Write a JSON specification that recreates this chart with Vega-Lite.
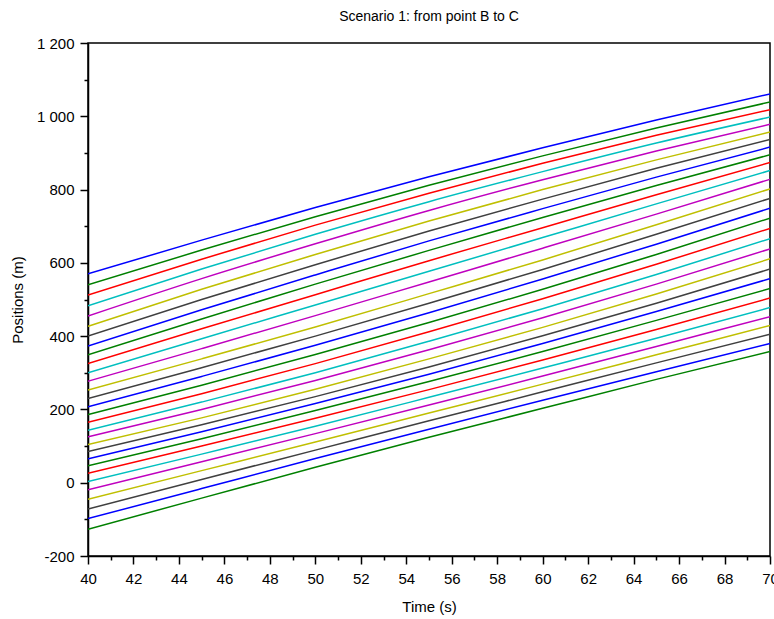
{
"$schema": "https://vega.github.io/schema/vega-lite/v6.json",
"autosize": "none",
"width": 682,
"height": 513,
"padding": {"left": 88, "top": 43, "right": 4, "bottom": 63},
"background": "white",
"config": {"font": "Liberation Sans", "view": {"stroke": "black", "strokeWidth": 1.5}},
"title": {"text": "Scenario 1: from point B to C", "fontSize": 14, "fontWeight": "normal", "font": "Liberation Sans", "color": "black", "offset": 12, "anchor": "middle"},
"data": {"values": [
{"v":1,"t":40,"p":570},{"v":1,"t":45,"p":662},{"v":1,"t":50,"p":751},{"v":1,"t":55,"p":835},{"v":1,"t":60,"p":914},{"v":1,"t":65,"p":990},{"v":1,"t":70,"p":1061},
{"v":2,"t":40,"p":540},{"v":2,"t":45,"p":635},{"v":2,"t":50,"p":726},{"v":2,"t":55,"p":812},{"v":2,"t":60,"p":892},{"v":2,"t":65,"p":968},{"v":2,"t":70,"p":1039},
{"v":3,"t":40,"p":512},{"v":3,"t":45,"p":610},{"v":3,"t":50,"p":703},{"v":3,"t":55,"p":790},{"v":3,"t":60,"p":872},{"v":3,"t":65,"p":948},{"v":3,"t":70,"p":1018},
{"v":4,"t":40,"p":483},{"v":4,"t":45,"p":583},{"v":4,"t":50,"p":678},{"v":4,"t":55,"p":767},{"v":4,"t":60,"p":849},{"v":4,"t":65,"p":927},{"v":4,"t":70,"p":998},
{"v":5,"t":40,"p":455},{"v":5,"t":45,"p":557},{"v":5,"t":50,"p":652},{"v":5,"t":55,"p":743},{"v":5,"t":60,"p":827},{"v":5,"t":65,"p":905},{"v":5,"t":70,"p":978},
{"v":6,"t":40,"p":427},{"v":6,"t":45,"p":528},{"v":6,"t":50,"p":623},{"v":6,"t":55,"p":714},{"v":6,"t":60,"p":800},{"v":6,"t":65,"p":881},{"v":6,"t":70,"p":957},
{"v":7,"t":40,"p":400},{"v":7,"t":45,"p":500},{"v":7,"t":50,"p":595},{"v":7,"t":55,"p":687},{"v":7,"t":60,"p":774},{"v":7,"t":65,"p":858},{"v":7,"t":70,"p":937},
{"v":8,"t":40,"p":373},{"v":8,"t":45,"p":472},{"v":8,"t":50,"p":567},{"v":8,"t":55,"p":660},{"v":8,"t":60,"p":748},{"v":8,"t":65,"p":834},{"v":8,"t":70,"p":916},
{"v":9,"t":40,"p":349},{"v":9,"t":45,"p":447},{"v":9,"t":50,"p":542},{"v":9,"t":55,"p":634},{"v":9,"t":60,"p":724},{"v":9,"t":65,"p":811},{"v":9,"t":70,"p":895},
{"v":10,"t":40,"p":325},{"v":10,"t":45,"p":420},{"v":10,"t":50,"p":513},{"v":10,"t":55,"p":606},{"v":10,"t":60,"p":696},{"v":10,"t":65,"p":786},{"v":10,"t":70,"p":874},
{"v":11,"t":40,"p":300},{"v":11,"t":45,"p":393},{"v":11,"t":50,"p":485},{"v":11,"t":55,"p":577},{"v":11,"t":60,"p":669},{"v":11,"t":65,"p":761},{"v":11,"t":70,"p":852},
{"v":12,"t":40,"p":277},{"v":12,"t":45,"p":366},{"v":12,"t":50,"p":456},{"v":12,"t":55,"p":548},{"v":12,"t":60,"p":640},{"v":12,"t":65,"p":733},{"v":12,"t":70,"p":828},
{"v":13,"t":40,"p":253},{"v":13,"t":45,"p":338},{"v":13,"t":50,"p":425},{"v":13,"t":55,"p":516},{"v":13,"t":60,"p":608},{"v":13,"t":65,"p":704},{"v":13,"t":70,"p":802},
{"v":14,"t":40,"p":230},{"v":14,"t":45,"p":314},{"v":14,"t":50,"p":400},{"v":14,"t":55,"p":490},{"v":14,"t":60,"p":582},{"v":14,"t":65,"p":678},{"v":14,"t":70,"p":776},
{"v":15,"t":40,"p":207},{"v":15,"t":45,"p":290},{"v":15,"t":50,"p":375},{"v":15,"t":55,"p":464},{"v":15,"t":60,"p":556},{"v":15,"t":65,"p":651},{"v":15,"t":70,"p":749},
{"v":16,"t":40,"p":186},{"v":16,"t":45,"p":266},{"v":16,"t":50,"p":350},{"v":16,"t":55,"p":437},{"v":16,"t":60,"p":528},{"v":16,"t":65,"p":623},{"v":16,"t":70,"p":722},
{"v":17,"t":40,"p":165},{"v":17,"t":45,"p":243},{"v":17,"t":50,"p":325},{"v":17,"t":55,"p":412},{"v":17,"t":60,"p":502},{"v":17,"t":65,"p":596},{"v":17,"t":70,"p":694},
{"v":18,"t":40,"p":143},{"v":18,"t":45,"p":220},{"v":18,"t":50,"p":300},{"v":18,"t":55,"p":386},{"v":18,"t":60,"p":475},{"v":18,"t":65,"p":568},{"v":18,"t":70,"p":666},
{"v":19,"t":40,"p":125},{"v":19,"t":45,"p":200},{"v":19,"t":50,"p":279},{"v":19,"t":55,"p":363},{"v":19,"t":60,"p":450},{"v":19,"t":65,"p":542},{"v":19,"t":70,"p":638},
{"v":20,"t":40,"p":104},{"v":20,"t":45,"p":177},{"v":20,"t":50,"p":255},{"v":20,"t":55,"p":338},{"v":20,"t":60,"p":424},{"v":20,"t":65,"p":515},{"v":20,"t":70,"p":611},
{"v":21,"t":40,"p":85},{"v":21,"t":45,"p":158},{"v":21,"t":50,"p":235},{"v":21,"t":55,"p":316},{"v":21,"t":60,"p":401},{"v":21,"t":65,"p":490},{"v":21,"t":70,"p":583},
{"v":22,"t":40,"p":65},{"v":22,"t":45,"p":139},{"v":22,"t":50,"p":216},{"v":22,"t":55,"p":296},{"v":22,"t":60,"p":380},{"v":22,"t":65,"p":467},{"v":22,"t":70,"p":557},
{"v":23,"t":40,"p":46},{"v":23,"t":45,"p":120},{"v":23,"t":50,"p":197},{"v":23,"t":55,"p":276},{"v":23,"t":60,"p":358},{"v":23,"t":65,"p":443},{"v":23,"t":70,"p":530},
{"v":24,"t":40,"p":26},{"v":24,"t":45,"p":100},{"v":24,"t":50,"p":176},{"v":24,"t":55,"p":254},{"v":24,"t":60,"p":335},{"v":24,"t":65,"p":418},{"v":24,"t":70,"p":504},
{"v":25,"t":40,"p":3},{"v":25,"t":45,"p":78},{"v":25,"t":50,"p":154},{"v":25,"t":55,"p":233},{"v":25,"t":60,"p":313},{"v":25,"t":65,"p":394},{"v":25,"t":70,"p":478},
{"v":26,"t":40,"p":-19},{"v":26,"t":45,"p":57},{"v":26,"t":50,"p":134},{"v":26,"t":55,"p":212},{"v":26,"t":60,"p":291},{"v":26,"t":65,"p":372},{"v":26,"t":70,"p":453},
{"v":27,"t":40,"p":-45},{"v":27,"t":45,"p":33},{"v":27,"t":50,"p":111},{"v":27,"t":55,"p":190},{"v":27,"t":60,"p":269},{"v":27,"t":65,"p":349},{"v":27,"t":70,"p":429},
{"v":28,"t":40,"p":-72},{"v":28,"t":45,"p":9},{"v":28,"t":50,"p":89},{"v":28,"t":55,"p":169},{"v":28,"t":60,"p":248},{"v":28,"t":65,"p":327},{"v":28,"t":70,"p":405},
{"v":29,"t":40,"p":-98},{"v":29,"t":45,"p":-16},{"v":29,"t":50,"p":66},{"v":29,"t":55,"p":146},{"v":29,"t":60,"p":225},{"v":29,"t":65,"p":303},{"v":29,"t":70,"p":380},
{"v":30,"t":40,"p":-127},{"v":30,"t":45,"p":-42},{"v":30,"t":50,"p":42},{"v":30,"t":55,"p":124},{"v":30,"t":60,"p":203},{"v":30,"t":65,"p":282},{"v":30,"t":70,"p":358}
]},
"layer": [
{
"mark": {"type": "line", "strokeWidth": 1.5, "interpolate": "monotone", "clip": true},
"encoding": {
"x": {"field": "t", "type": "quantitative",
"scale": {"domain": [40, 70], "nice": false, "zero": false},
"axis": {"orient": "bottom", "values": [40,42,44,46,48,50,52,54,56,58,60,62,64,66,68,70], "grid": false,
"tickSize": 8, "tickWidth": 1.5, "tickColor": "black", "domainColor": "black", "domainWidth": 1.5,
"labelFontSize": 15, "labelColor": "black", "labelPadding": 7, "labelFlush": false,
"title": "Time (s)", "titleFontSize": 15, "titleFontWeight": "normal", "titleColor": "black", "titlePadding": 13}},
"y": {"field": "p", "type": "quantitative",
"scale": {"domain": [-200, 1200], "nice": false, "zero": false},
"axis": {"orient": "left", "values": [-200,0,200,400,600,800,1000,1200], "grid": false,
"labelExpr": "replace(replace(format(datum.value, ','), ',', ' '), '\u2212', '-')",
"tickSize": 8, "tickWidth": 1.5, "tickColor": "black", "domainColor": "black", "domainWidth": 1.5,
"labelFontSize": 15, "labelColor": "black", "labelPadding": 6, "labelFlush": false,
"title": "Positions (m)", "titleFontSize": 15, "titleFontWeight": "normal", "titleColor": "black", "titlePadding": 11}},
"color": {"field": "v", "type": "nominal", "legend": null,
"scale": {"domain": [1,2,3,4,5,6,7,8,9,10,11,12,13,14,15,16,17,18,19,20,21,22,23,24,25,26,27,28,29,30],
"range": ["#0000ff","#008000","#ff0000","#00bfbf","#bf00bf","#bfbf00","#404040"]}}
}
},
{
"mark": {"type": "line", "opacity": 0},
"encoding": {
"x": {"field": "t", "type": "quantitative",
"axis": {"orient": "bottom", "values": [41,43,45,47,49,51,53,55,57,59,61,63,65,67,69], "grid": false, "labels": false, "domain": false,
"tickSize": 4, "tickWidth": 1.5, "tickColor": "black", "title": null}},
"y": {"field": "p", "type": "quantitative",
"axis": {"orient": "left", "values": [-100,100,300,500,700,900,1100], "grid": false, "labels": false, "domain": false,
"tickSize": 4, "tickWidth": 1.5, "tickColor": "black", "title": null}},
"detail": {"field": "v", "type": "nominal"}
}
}
],
"resolve": {"axis": {"x": "independent", "y": "independent"}}
}
